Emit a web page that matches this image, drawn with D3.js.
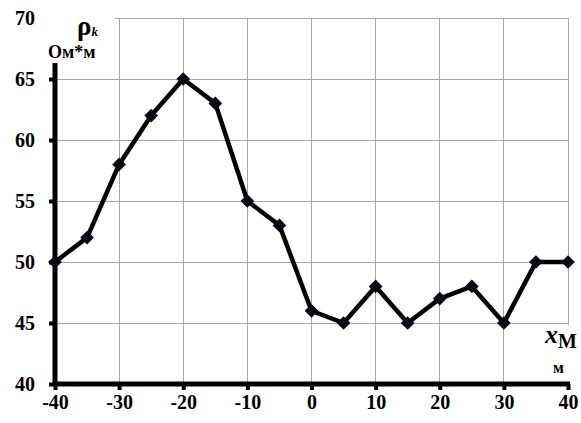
<!DOCTYPE html>
<html>
<head>
    <meta charset="utf-8">
    <title>rho_k</title>
    <style type="text/css">
        body { margin: 0; background: #fff; }
        .grid line { stroke: #a6a6a6; stroke-width: 1; shape-rendering: crispEdges; }
    </style>
</head>
<body>
<script src="https://cdn.jsdelivr.net/npm/d3@7"></script>
<script type="text/javascript">
    /*=========DATA=========*/
    var xValues = [-40, -35, -30, -25, -20, -15, -10, -5, 0, 5, 10, 15, 20, 25, 30, 35, 40];
    var rhoValues = [50, 52, 58, 62, 65, 63, 55, 53, 46, 45, 48, 45, 47, 48, 45, 50, 50];
    var xTicks = [-40, -30, -20, -10, 0, 10, 20, 30, 40];
    var yTicks = [40, 45, 50, 55, 60, 65, 70];

    var serif = "'Liberation Serif', 'Times New Roman', serif";

    /*=====SIZE======*/
    var svgWidth = 581, svgHeight = 423;
    var margin = { top: 18, right: 13, bottom: 39, left: 55 };
    var width = svgWidth - margin.left - margin.right;
    var height = svgHeight - margin.top - margin.bottom;

    var xScale = d3.scaleLinear().domain([-40, 40]).range([0, width]);
    var yScale = d3.scaleLinear().domain([40, 70]).range([height, 0]);

    var svg = d3.select("body").append("svg")
        .attr("width", svgWidth).attr("height", svgHeight);
    var g = svg.append("g")
        .attr("transform", "translate(" + margin.left + "," + margin.top + ")");

    // сетка
    var grid = g.append("g").attr("class", "grid");
    grid.selectAll(".gx").data(xTicks.slice(1)).enter().append("line")
        .attr("x1", d => xScale(d)).attr("x2", d => xScale(d))
        .attr("y1", 0).attr("y2", height);
    grid.selectAll(".gy").data(yTicks.slice(1)).enter().append("line")
        .attr("y1", d => yScale(d)).attr("y2", d => yScale(d))
        .attr("x1", 0).attr("x2", width);

    // оси
    var fmt = d => String(d);
    var xAxis = d3.axisBottom(xScale).tickValues(xTicks).tickFormat(fmt).tickSize(6).tickPadding(5);
    var yAxis = d3.axisLeft(yScale).tickValues(yTicks).tickFormat(fmt).tickSize(6).tickPadding(14);

    var gx = g.append("g").attr("transform", "translate(0," + height + ")").call(xAxis);
    var gy = g.append("g").call(yAxis);
    [gx, gy].forEach(a => {
        a.select(".domain").remove();
        a.attr("font-family", serif).attr("font-size", 20).attr("font-weight", "bold");
        a.selectAll(".tick line").attr("stroke", "#000").attr("stroke-width", 4);
        a.selectAll(".tick text").attr("fill", "#000");
    });
    gy.selectAll(".tick").filter(d => d === 70).select("line").remove();

    // белые подложки под подписи осей
    g.append("rect").attr("x", -2).attr("y", -8).attr("width", 62).attr("height", 53).attr("fill", "#fff");
    g.append("rect").attr("x", width - 28).attr("y", yScale(45) + 2).attr("width", 44).attr("height", height - yScale(45) - 4).attr("fill", "#fff");

    g.append("line").attr("x1", 0).attr("x2", 0).attr("y1", 45).attr("y2", height + 2)
        .attr("stroke", "#000").attr("stroke-width", 5);
    g.append("line").attr("x1", -2).attr("x2", width + 2).attr("y1", height).attr("y2", height)
        .attr("stroke", "#000").attr("stroke-width", 5);

    // линия
    var pts = xValues.map((x, i) => [x, rhoValues[i]]);
    var line = d3.line().x(d => xScale(d[0])).y(d => yScale(d[1]));
    g.append("path").attr("d", line(pts))
        .attr("fill", "none").attr("stroke", "#000").attr("stroke-width", 4.5)
        .attr("stroke-linejoin", "round");

    g.selectAll(".dot").data(pts).enter().append("path")
        .attr("class", "dot")
        .attr("transform", d => "translate(" + xScale(d[0]) + "," + yScale(d[1]) + ")")
        .attr("d", d3.symbol().type(d3.symbolDiamond2).size(120))
        .attr("fill", "#0a0a14");

    // подписи
    var lbl = svg.append("g").attr("font-family", serif).attr("font-weight", "bold").attr("fill", "#000");
    var t1 = lbl.append("text").attr("x", 77).attr("y", 35).attr("font-size", 27);
    t1.append("tspan").text("ρ");
    t1.append("tspan").attr("font-size", 13).attr("dy", 1).attr("font-style", "italic").text("k");
    lbl.append("text").attr("x", 48).attr("y", 58).attr("font-size", 18).text("Ом*м");

    var t2 = lbl.append("text").attr("x", 545).attr("y", 343).attr("font-size", 26);
    t2.append("tspan").attr("font-style", "italic").text("x");
    t2.append("tspan").attr("font-size", 20).attr("dy", 5).text("М");
    lbl.append("text").attr("x", 553).attr("y", 373).attr("font-size", 16).text("м");
</script>
</body>
</html>
